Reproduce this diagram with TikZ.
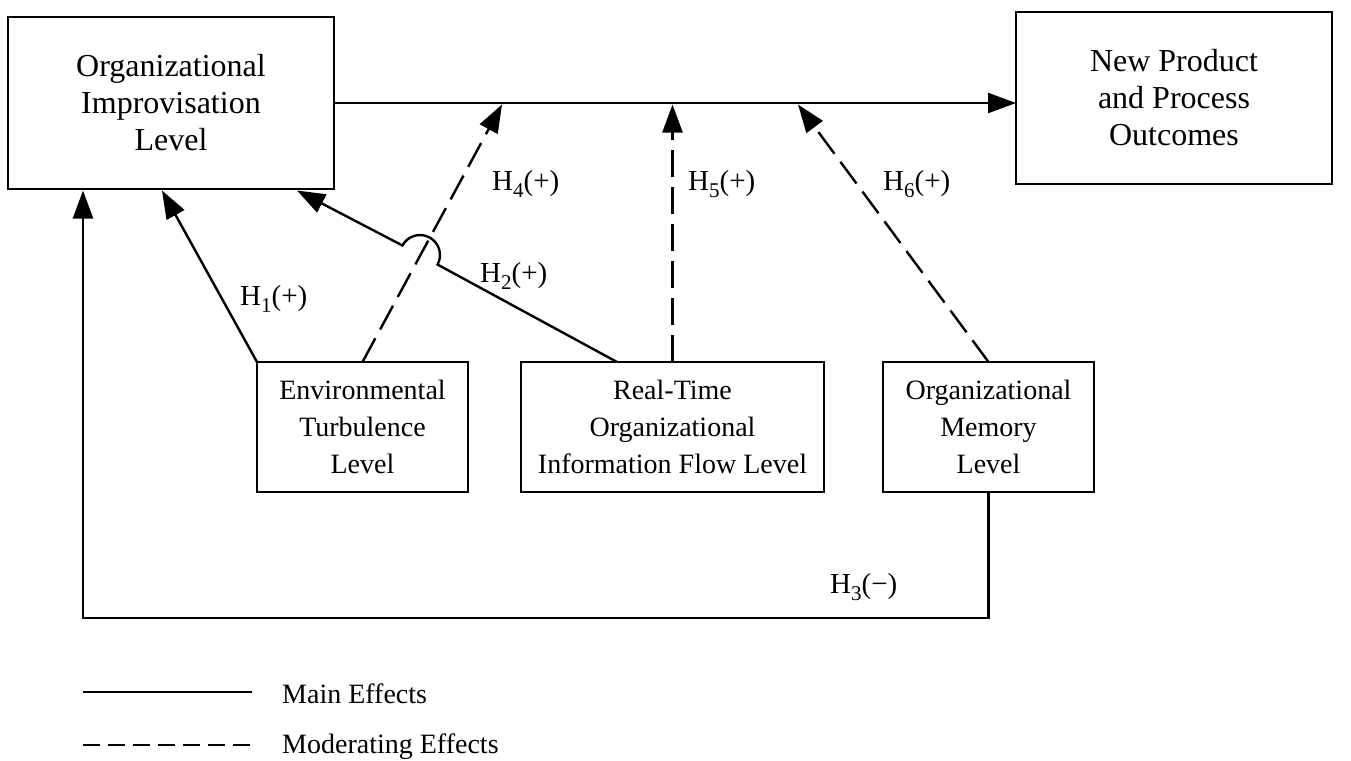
\documentclass[tikz,border=0pt]{standalone}
\usepackage{fontspec}
\setmainfont{Liberation Serif}
\usetikzlibrary{arrows.meta}
\newcommand{\hyp}[2]{H\lower7pt\hbox{\fontsize{21}{21}\selectfont #1}(#2)}
\begin{document}
\begin{tikzpicture}[x=1pt,y=1pt,
  box/.style={draw,line width=2.4pt,inner sep=0pt,outer sep=0pt,align=center},
  bigtxt/.style={font=\fontsize{32}{37}\selectfont},
  midtxt/.style={font=\fontsize{28}{37}\selectfont},
  conn/.style={line width=2.4pt},
  arr/.style={conn,-{Triangle[length=28pt,width=20pt]}},
  mod/.style={arr,dash pattern=on 27pt off 10pt},
  lbl/.style={font=\fontsize{29}{32}\selectfont,inner sep=0pt,anchor=base west},
  legtxt/.style={font=\fontsize{28}{32}\selectfont,inner sep=0pt,anchor=base west}
]
\useasboundingbox (0,0) rectangle (1351,-760);

% boxes
\node[box,bigtxt,minimum width=326pt,minimum height=172pt] (oil) at (171,-103) {Organizational\\Improvisation\\Level};
\node[box,bigtxt,minimum width=316pt,minimum height=172pt] (npp) at (1174,-98) {New Product\\and Process\\Outcomes};
\node[box,midtxt,minimum width=211pt,minimum height=130pt] (etl) at (362.5,-427) {Environmental\\Turbulence\\Level};
\node[box,midtxt,minimum width=303pt,minimum height=130pt] (rto) at (672.5,-427) {Real-Time\\Organizational\\Information Flow Level};
\node[box,midtxt,minimum width=211pt,minimum height=130pt] (oml) at (988.5,-427) {Organizational\\Memory\\Level};

% connector end points
\coordinate (t1) at (162,-190.5);
\coordinate (t2) at (297,-190.5);
\coordinate (t3) at (83,-190.5);
\coordinate (m4) at (502,-104.5);
\coordinate (m5) at (672.5,-104.5);
\coordinate (m6) at (798,-104.5);
\coordinate (s2) at (617,-362);
\coordinate (h3) at (83,-618);
\coordinate (jA) at (437.57,-264.56);

% main effects
\draw[arr] (oil.east) -- (oil.east -| npp.west);
\draw[arr] (etl.north west) -- (t1);
\draw[arr] (s2) -- (jA) arc[start angle=-28.5,end angle=151.5,radius=20pt] -- (t2);
\draw[arr] (oml.south) |- (h3) -- (t3);

% moderating effects
\draw[mod] (etl.north) -- (m4);
\draw[mod] (rto.north) -- (m5);
\draw[mod] (oml.north) -- (m6);

% labels
\node[lbl] (l1) at (240,-305) {\hyp{1}{+}};
\node[lbl] (l2) at (480,-282) {\hyp{2}{+}};
\node[lbl] (l3) at (830,-593) {\hyp{3}{\char"2212}};
\node[lbl] (l4) at (492,-190) {\hyp{4}{+}};
\node[lbl] (l5) at (688,-190) {\hyp{5}{+}};
\node[lbl] (l6) at (883,-190) {\hyp{6}{+}};

% legend
\coordinate (la1) at (83,-692);
\coordinate (la2) at (252,-692);
\coordinate (lb1) at (83,-745);
\coordinate (lb2) at (257,-745);
\draw[conn] (la1) -- (la2);
\draw[conn,dash pattern=on 17pt off 8pt] (lb1) -- (lb2);
\node[legtxt] (lm) at (282,-703) {Main Effects};
\node[legtxt] (lo) at (282,-753) {Moderating Effects};
\end{tikzpicture}
\end{document}
